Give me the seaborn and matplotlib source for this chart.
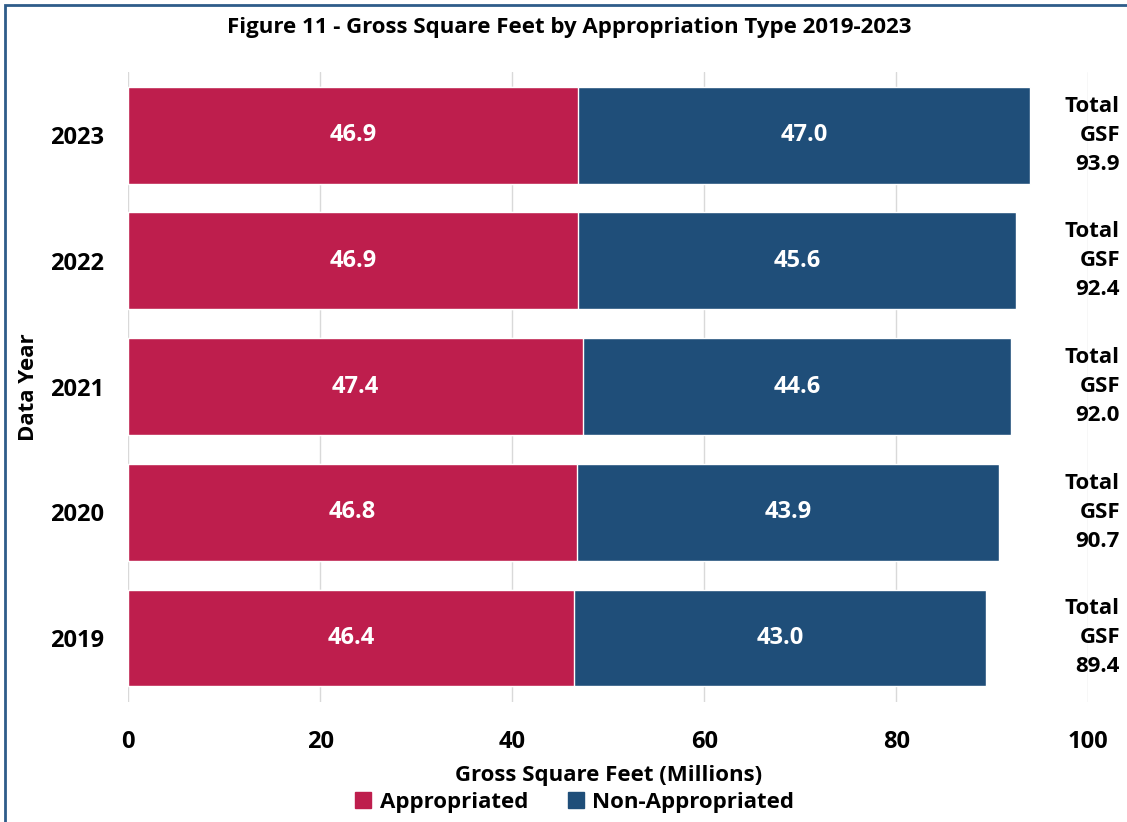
import matplotlib.pyplot as plt
import seaborn as sns
import pandas as pd
from matplotlib.patches import Patch, Rectangle

# values (millions of GSF)
years = ["2023", "2022", "2021", "2020", "2019"]
appropriated = [46.9, 46.9, 47.4, 46.8, 46.4]
non_appropriated = [47.0, 45.6, 44.6, 43.9, 43.0]
totals = [93.9, 92.4, 92.0, 90.7, 89.4]

red = "#BE1E4D"
blue = "#1F4E79"

sns.set_theme(style="white")
plt.rcParams["font.family"] = ["Open Sans", "DejaVu Sans"]
plt.rcParams["font.weight"] = "bold"
for key in ["text.color", "axes.labelcolor", "xtick.color", "ytick.color"]:
    plt.rcParams[key] = "black"

df = pd.DataFrame({
    "year": years,
    "appropriated": appropriated,
    "non_appropriated": non_appropriated,
    "stack": [a + b for a, b in zip(appropriated, non_appropriated)],
})

fig = plt.figure(figsize=(11.27, 8.22), dpi=100)
ax = fig.add_axes([0.1136, 0.146, 0.852, 0.766])

# stacked bars: full stack in blue, appropriated drawn over it
sns.barplot(data=df, x="stack", y="year", order=years, color=blue,
            width=0.77, saturation=1, ax=ax, zorder=2)
sns.barplot(data=df, x="appropriated", y="year", order=years, color=red,
            width=0.77, saturation=1, ax=ax, zorder=3)

fs = 16
fnum = 17
for i, (a, n, t) in enumerate(zip(appropriated, non_appropriated, totals)):
    ax.text(a / 2, i, f"{a:.1f}", color="white", fontsize=fnum, fontweight="bold",
            ha="center", va="center", zorder=4)
    ax.text(a + n / 2, i, f"{n:.1f}", color="white", fontsize=fnum, fontweight="bold",
            ha="center", va="center", zorder=4)
    ax.text(1.033, i, f"Total\nGSF\n{t:.1f}", transform=ax.get_yaxis_transform(),
            fontsize=fs, fontweight="bold", ha="right", va="center",
            multialignment="right", linespacing=1.5, zorder=4)

ax.set_xlim(0, 100)
ax.set_ylim(4.51, -0.50)
ax.set_xticks([0, 20, 40, 60, 80, 100])
ax.tick_params(axis="x", length=0, labelsize=fnum, pad=20)
ax.tick_params(axis="y", length=0, labelsize=fnum, pad=17)
for lbl in ax.get_xticklabels() + ax.get_yticklabels():
    lbl.set_fontweight("bold")
ax.xaxis.grid(True, color="#D9D9D9", linewidth=1, zorder=0)
ax.set_axisbelow(True)
sns.despine(ax=ax, left=True, bottom=True)

ax.set_xlabel("Gross Square Feet (Millions)", fontsize=fs, fontweight="bold")
ax.xaxis.set_label_coords(0.5, -0.116)
ax.xaxis.label.set_va("center")
ax.set_ylabel("Data Year", fontsize=fs, fontweight="bold")
ax.yaxis.set_label_coords(-0.104, 0.5)
ax.yaxis.label.set_va("center")

fig.text(0.505, 0.967, "Figure 11 - Gross Square Feet by Appropriation Type 2019-2023",
         ha="center", va="center", fontsize=fs, fontweight="bold")

handles = [Patch(color=red, label="Appropriated"), Patch(color=blue, label="Non-Appropriated")]
fig.legend(handles=handles, loc="center", bbox_to_anchor=(0.51, 0.024), ncol=2,
           frameon=False, handlelength=0.7, handleheight=0.7,
           handletextpad=0.4, columnspacing=1.8, prop={"weight": "bold", "size": fs})

# blue frame; only top and left edges fall inside the picture
fig.patches.append(Rectangle((5 / 1127, -0.1), 1.2, 1.1 - 5 / 822, transform=fig.transFigure,
                             fill=False, edgecolor="#2E5C8A", linewidth=2))

fig.savefig("out.png", dpi=100)
